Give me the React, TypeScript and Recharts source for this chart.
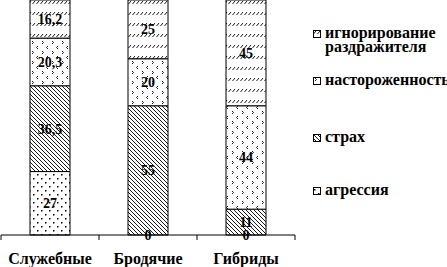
import React from "react";
import { BarChart, Bar, XAxis, YAxis, LabelList } from "recharts";

const categories = ["Служебные", "Бродячие", "Гибриды"];
const aggression = [27, 0, 0];
const fear = [36.5, 55, 11];
const alertness = [20.3, 20, 44];
const ignoring = [16.2, 25, 45];
const boundaryTicks = [0, 0.5, 1, 1.5, 2, 2.5, 3];

const FONT = '"Liberation Serif", "Times New Roman", serif';

const series = [
  { key: "aggression", name: "агрессия", fill: "url(#pAgg)" },
  { key: "fear", name: "страх", fill: "url(#pFear)" },
  { key: "alertness", name: "настороженность", fill: "url(#pAlert)" },
  { key: "ignoring", name: "игнорирование раздражителя", fill: "url(#pIgn)" },
];

const data = categories.map((name, i) => ({
  name,
  pos: i + 0.5,
  aggression: aggression[i],
  fear: fear[i],
  alertness: alertness[i],
  ignoring: ignoring[i],
}));

function Patterns() {
  return (
    <svg width="0" height="0" style={{ position: "absolute" }}>
      <defs>
        <pattern id="pAgg" width="8" height="8" patternUnits="userSpaceOnUse">
          <rect width="8" height="8" fill="#fff" />
          <rect x="1" y="2" width="1.5" height="1.5" fill="#000" />
          <rect x="5" y="6" width="1.5" height="1.5" fill="#000" />
        </pattern>
        <pattern id="pFear" width="4" height="4" patternUnits="userSpaceOnUse">
          <rect width="4" height="4" fill="#fff" />
          <path d="M-1,-1 L5,5 M3,-1 L5,1 M-1,3 L1,5" stroke="#000" strokeWidth="0.9" />
        </pattern>
        <pattern id="pAlert" width="10" height="10" patternUnits="userSpaceOnUse">
          <rect width="10" height="10" fill="#fff" />
          <path d="M2,1 L3.5,2.5 L2,4 M8,6 L6.5,7.5 L8,9" stroke="#000" strokeWidth="0.9" fill="none" />
        </pattern>
        <pattern id="pIgn" width="4" height="11" patternUnits="userSpaceOnUse">
          <rect width="4" height="11" fill="#fff" />
          <path d="M0.5,4 L3,1" stroke="#000" strokeWidth="0.9" />
        </pattern>
      </defs>
    </svg>
  );
}

function AxisTick(props: any) {
  const { x, y, payload } = props;
  const v = payload.value;
  if (Number.isInteger(v)) {
    return <line x1={x} y1={y} x2={x} y2={y + 5} stroke="#000" />;
  }
  return (
    <text x={x} y={y + 29} textAnchor="middle" fontFamily={FONT} fontWeight="bold" fontSize={16} fill="#000">
      {categories[Math.floor(v)]}
    </text>
  );
}

// zero aggression values sit on the axis, drawn from the fear segment's bottom edge
function ZeroLabel(props: any) {
  const { x, y, width, height, value } = props;
  if (value !== 0) return null;
  return (
    <text x={x + width / 2} y={y + height + 5} textAnchor="middle" fontFamily={FONT} fontWeight="bold" fontSize={14} fill="#000">
      0
    </text>
  );
}

function LegendBox() {
  const items = [...series].reverse();
  const tops = [26, 73, 130, 183];
  return (
    <div style={{ position: "absolute", left: 313, top: 0, width: 134, height: 220, fontFamily: FONT, fontSize: 16, fontWeight: "bold", color: "#000" }}>
      {items.map((s, i) => (
        <div key={s.key} style={{ position: "absolute", top: tops[i], left: 0, display: "flex", alignItems: "flex-start", whiteSpace: "nowrap" }}>
          <svg width="8" height="8" style={{ marginTop: 4, marginRight: 4, flex: "none" }}>
            <rect x="0.5" y="0.5" width="7" height="7" fill={s.fill} stroke="#000" />
          </svg>
          <span style={{ lineHeight: "14px", width: 125, whiteSpace: "normal" }}>{s.name}</span>
        </div>
      ))}
    </div>
  );
}

const fmt = (v: any) => (v === 0 ? "" : String(v).replace(".", ","));

export default function App() {
  return (
    <div style={{ position: "absolute", left: 0, top: 0, width: 447, height: 267, background: "#fff", overflow: "hidden" }}>
      <Patterns />
      <BarChart width={447} height={267} data={data} margin={{ top: 0, right: 152, left: 1, bottom: 0 }}>
        <XAxis
          dataKey="pos"
          type="number"
          domain={[0, 3]}
          ticks={boundaryTicks}
          interval={0}
          tick={<AxisTick />}
          tickLine={false}
          tickSize={0}
          tickMargin={0}
          axisLine={{ stroke: "#000" }}
          height={32}
        />
        <YAxis hide domain={[0, 100]} />
        {series.map((s) => (
          <Bar key={s.key} dataKey={s.key} name={s.name} stackId="a" fill={s.fill} stroke="#000" strokeWidth={1} barSize={40} isAnimationActive={false}>
            <LabelList dataKey={s.key} position="center" formatter={fmt} fill="#000" fontFamily={FONT} fontWeight="bold" fontSize={14} />
            {s.key === "fear" && <LabelList dataKey="aggression" content={<ZeroLabel />} />}
          </Bar>
        ))}
      </BarChart>
      <LegendBox />
    </div>
  );
}
